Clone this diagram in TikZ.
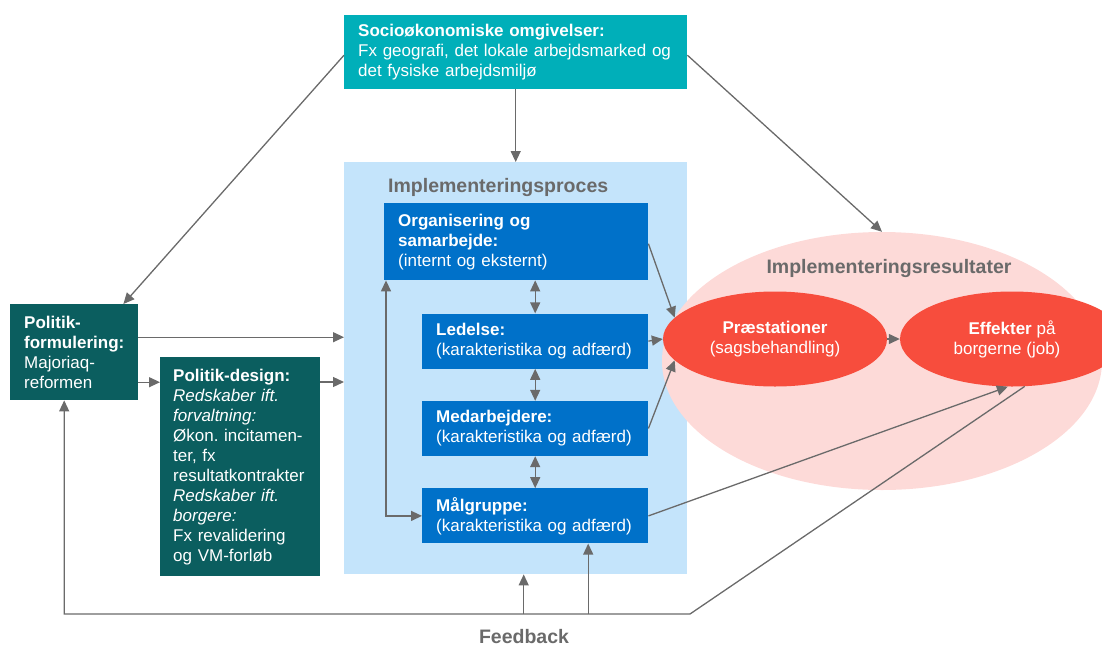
\documentclass[tikz,border=0pt]{standalone}
\usepackage{fontspec}
\setmainfont{Liberation Sans}
\usepackage{tikz}
\usetikzlibrary{positioning,arrows.meta,shapes.geometric}

\definecolor{sociocol}{HTML}{00AFB9}
\definecolor{politikcol}{HTML}{0B5E5F}
\definecolor{proccol}{HTML}{C4E4FB}
\definecolor{blockcol}{HTML}{0071C9}
\definecolor{rescol}{HTML}{FDDAD8}
\definecolor{redcol}{HTML}{F74D3D}
\definecolor{arrowcol}{HTML}{6A6A6A}

\begin{document}
\begin{tikzpicture}[x=1pt, y=-1pt,
    every node/.style={font=\fontsize{17}{20}\selectfont},
    box/.style={rectangle, inner xsep=14pt, inner ysep=0pt, align=left, text=white},
    politik/.style={box, fill=politikcol},
    block/.style={box, fill=blockcol, minimum height=55pt, minimum width=226pt, text width=198pt},
    oval/.style={ellipse, inner sep=0pt, fill=redcol, text=white, align=center,
                 minimum width=224pt, minimum height=95pt},
    heading/.style={font=\fontsize{19.5}{22}\selectfont\bfseries, text=arrowcol, inner sep=0pt},
    arr/.style={draw=arrowcol, line width=1.3pt, -{Triangle[length=11pt,width=10pt]}},
    dblarr/.style={arr, {Triangle[length=11pt,width=10pt]}-{Triangle[length=11pt,width=10pt]}},
    line/.style={draw=arrowcol, line width=1.3pt}]
  \clip (0,0) rectangle (1102,646);

  \node (socio)[box, fill=sociocol, anchor=north west, minimum width=343pt, minimum height=74pt,
        text width=315pt] at (344,15)
        {\textbf{Socioøkonomiske omgivelser:}\\Fx geografi, det lokale arbejdsmarked og\\det fysiske arbejdsmiljø};

  \node (proc)[rectangle, fill=proccol, anchor=north west, minimum width=343pt, minimum height=412pt]
        at (344,162) {};
  \node (proctitle)[heading, anchor=west] at (388,187) {Implementeringsproces};

  \node (org)[box, fill=blockcol, anchor=north west, minimum width=264pt, minimum height=77pt,
        text width=236pt] at (384,203)
        {\textbf{Organisering og}\\\textbf{samarbejde:}\\(internt og eksternt)};
  \node (led)[block, below left=33pt and 0pt of org.south east]
        {\textbf{Ledelse:}\\(karakteristika og adfærd)};
  \node (med)[block, below=32pt of led]
        {\textbf{Medarbejdere:}\\(karakteristika og adfærd)};
  \node (mal)[block, below=32pt of med]
        {\textbf{Målgruppe:}\\(karakteristika og adfærd)};

  \node (polf)[politik, anchor=north west, minimum width=128pt, minimum height=96pt,
        text width=100pt] at (10,304)
        {\textbf{Politik-}\\\textbf{formulering:}\\Majoriaq-\\reformen};
  \node (pold)[politik, anchor=north west, inner xsep=13pt, minimum width=160pt, minimum height=219pt,
        text width=134pt] at (160,357)
        {\textbf{Politik-design:}\\\textit{Redskaber ift.}\\\textit{forvaltning:}\\Økon.\ incitamen-\\ter, fx\\resultatkontrakter\\\textit{Redskaber ift.}\\\textit{borgere:}\\Fx revalidering\\og VM-forløb};

  \node (res)[ellipse, fill=rescol, minimum width=440pt, minimum height=258pt] at (882,361) {};
  \node (restitle)[heading] at (889,268) {Implementeringsresultater};
  \node (praes)[oval] at (775,339) {\textbf{Præstationer}\\(sagsbehandling)};
  \node (eff)[oval] at (1012,339) {\textbf{Effekter} på\\borgerne (job)\hspace*{10pt}};

  \node (fbtext)[heading] at (524,637) {Feedback};
  \coordinate (fb) at (690,614);

  \draw[arr] ([yshift=-3pt]socio.west) -- ([xshift=-15pt]polf.north east);
  \draw[arr] (socio.south) -- (proc.north);
  \draw[arr] ([yshift=-3pt]socio.east) -- (res.north);

  \draw[arr] ([yshift=15pt]polf.east) -- ([yshift=15pt]polf.east -| proc.west);
  \draw[arr] ([yshift=-30pt]polf.east) -- ([yshift=-30pt]polf.east -| pold.west);
  \draw[arr] ([yshift=-25pt]pold.north east) -- ([yshift=-25pt]pold.north east -| proc.west);

  \draw[dblarr] (org.south -| led.north) -- (led.north);
  \draw[dblarr] (led.south) -- (med.north);
  \draw[dblarr] (med.south) -- (mal.north);
  \draw[dblarr] ([xshift=2pt]org.south west) |- (mal.west);

  \draw[arr] ([yshift=-2pt]org.east) -- (praes.168);
  \draw[arr] (led.east) -- (praes.west);
  \draw[arr] (med.east) -- (praes.192);
  \draw[arr] (praes.east) -- (eff.west);
  \draw[arr] (mal.east) -- (eff.265);

  \draw[arr] (eff.285) -- (fb) -| ([xshift=-10pt]polf.south);
  \draw[arr] ([xshift=8pt]proc.south |- fb) -- ([xshift=8pt]proc.south);
  \draw[arr] ([xshift=53pt]mal.south |- fb) -- ([xshift=53pt]mal.south);
\end{tikzpicture}
\end{document}
